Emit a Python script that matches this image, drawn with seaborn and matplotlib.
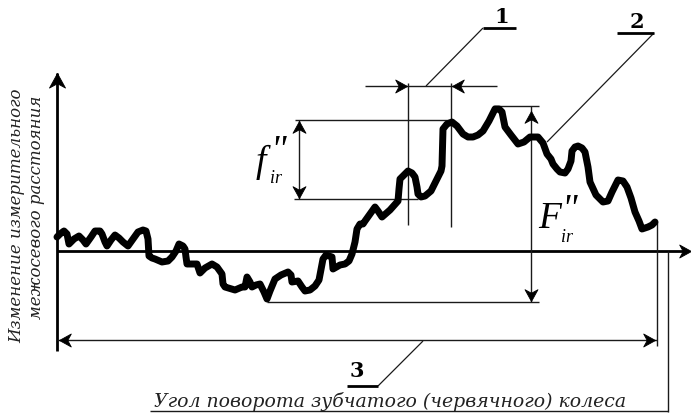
import matplotlib
matplotlib.use("Agg")
import matplotlib.pyplot as plt
from matplotlib.path import Path
import pandas as pd
import seaborn as sns

angle = [57,60,64,67,69,74,79,83,86,91,95,100,102,105,107,111,115,119,123,128,133,138,143,146,148,149,152,155,162,168,172,176,179,183,185,186,187,192,197,200,205,212,217,222,223,225,235,242,245,247,250,252,256,260,264,267,270,275,281,288,291,292,298,302,305,310,315,319,323,326,332,333,340,345,349,352,355,357,360,363,365,370,375,378,382,390,398,399,400,404,408,412,415,417,418,421,425,431,437,441,442,443,447,452,457,463,468,473,478,483,489,495,499,502,505,511,518,524,530,538,543,547,551,553,557,560,565,568,571,572,575,578,582,585,588,590,596,603,608,612,618,623,627,631,635,639,642,648,652,655]
deviation = [238,235,232,235,245,240,237,241,245,238,232,232,235,243,247,241,236,239,243,247,240,233,231,232,240,257,259,260,263,262,258,252,245,247,250,258,265,265,265,274,269,265,268,275,285,288,291,288,288,278,283,288,286,285,293,300,292,280,276,273,276,283,282,288,292,291,287,281,260,256,258,270,266,265,262,255,243,230,225,225,222,215,208,212,218,211,202,190,180,176,172,174,178,188,195,198,197,192,180,172,167,130,125,123,127,135,138,138,136,132,122,110,110,113,128,136,145,143,138,138,144,155,160,165,170,173,174,170,162,152,148,147,149,153,168,183,196,203,202,193,181,182,188,199,213,222,230,228,226,223]

label_x_axis = "Угол поворота зубчатого (червячного) колеса"
label_y_top = "Изменение измерительного"
label_y_bottom = "межосевого расстояния"
callouts = ["1", "2", "3"]

sns.set_theme(style="white")
plt.rcParams["font.family"] = ["DejaVu Serif"]

fig = plt.figure(figsize=(6.91, 4.14), dpi=100, facecolor="white")
ax = fig.add_axes([0, 0, 1, 1])
ax.set_xlim(0, 691)
ax.set_ylim(414, 0)
ax.axis("off")

BLACK = "#000000"
DARK = "#1a1a1a"

def line(xs, ys, lw=1.0, color=DARK):
    ax.plot(xs, ys, color=color, lw=lw, solid_capstyle="butt")

def head(x, y, direction, size=17):
    shapes = {
        "r": [(0, 0), (-1, 0.55), (-0.7, 0), (-1, -0.55), (0, 0)],
        "l": [(0, 0), (1, 0.55), (0.7, 0), (1, -0.55), (0, 0)],
        "u": [(0, 0), (0.55, -1), (0, -0.7), (-0.55, -1), (0, 0)],
        "d": [(0, 0), (0.55, 1), (0, 0.7), (-0.55, 1), (0, 0)],
    }
    ax.plot([x], [y], marker=Path(shapes[direction]), ms=size, color=BLACK,
            mec=BLACK, mew=0.6, ls="none", zorder=5)

# axes
line([57, 57], [74, 352], lw=2.0, color=BLACK)
head(57, 74, "u", 21)
line([57, 688], [252, 252], lw=2.0, color=BLACK)
head(691, 252, "r")

# dimension and guide lines
line([57, 657], [341, 341])
head(59, 341, "l")
head(655, 341, "r")
line([657, 657], [223, 347])
line([668, 668], [252, 413])
line([150, 668], [412.5, 412.5])

line([365, 497], [87, 87])
line([408, 408], [84, 226])
line([451, 451], [84, 228])
head(407, 87, "r")
head(452, 87, "l")

line([295, 451], [121, 121])
line([294, 418], [200, 200])
line([299, 299], [121, 200])
head(299, 122, "u")
head(299, 199, "d")

line([493, 539], [107, 107])
line([267, 539], [303, 303])
line([531, 531], [107, 303])
head(531, 112, "u")
head(531, 302, "d")

# leaders
line([483, 426], [29, 87], lw=0.9)
line([483, 516], [29, 29], lw=2.0, color=BLACK)
line([654, 547], [34, 143], lw=0.9)
line([617, 654], [34, 34], lw=2.0, color=BLACK)
line([423, 378], [342, 387], lw=0.9)
line([347, 378], [387, 387], lw=2.0, color=BLACK)

# curve
df = pd.DataFrame({"angle": angle, "deviation": deviation})
sns.lineplot(data=df, x="angle", y="deviation", sort=False, estimator=None,
             color=BLACK, lw=5.0, ax=ax, zorder=4,
             solid_joinstyle="round", solid_capstyle="round")
ax.set_xlim(0, 691)
ax.set_ylim(414, 0)
ax.axis("off")

# text
bold = dict(fontweight="bold", fontsize=15, ha="center", va="bottom", color=BLACK)
ax.text(502, 27, callouts[0], **bold)
ax.text(637, 32, callouts[1], **bold)
ax.text(357, 381, callouts[2], **bold)

serif_it = dict(family="Liberation Serif", style="italic", color=BLACK)
ax.text(261, 162, "f", fontsize=27, ha="center", va="center", **serif_it)
ax.text(278, 152, '"', fontsize=27, ha="center", va="center", **serif_it)
ax.text(276, 179, "ir", fontsize=13, ha="center", va="center", **serif_it)
ax.text(550, 219, "F", fontsize=27, ha="center", va="center", **serif_it)
ax.text(569, 211, '"', fontsize=27, ha="center", va="center", **serif_it)
ax.text(567, 238, "ir", fontsize=13, ha="center", va="center", **serif_it)

lab = dict(family="DejaVu Serif", style="italic", color="#222222")
ax.text(390, 407, label_x_axis, fontsize=13.6, ha="center", va="baseline", **lab)
ax.text(17, 216, label_y_top, fontsize=12, rotation=90, ha="center", va="center", **lab)
ax.text(37, 207, label_y_bottom, fontsize=12, rotation=90, ha="center", va="center", **lab)

fig.savefig("out.png", dpi=100, facecolor="white")
